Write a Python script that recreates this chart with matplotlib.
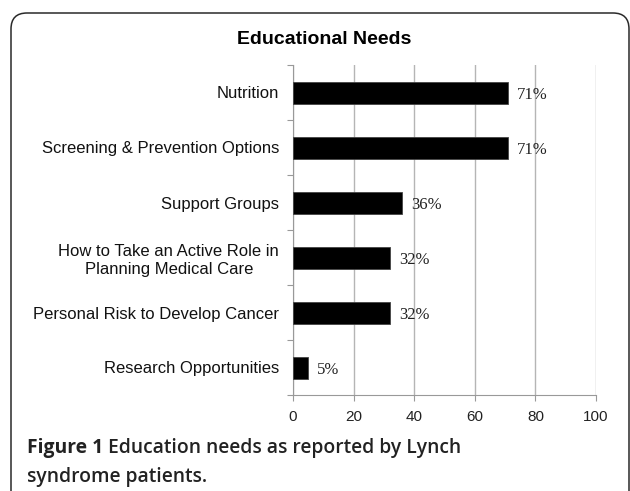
import numpy as np
import matplotlib.pyplot as plt
from matplotlib.patches import FancyBboxPatch

categories = ["Nutrition",
              "Screening & Prevention Options",
              "Support Groups",
              "How to Take an Active Role in\nPlanning Medical Care",
              "Personal Risk to Develop Cancer",
              "Research Opportunities"]
values = [71, 71, 36, 32, 32, 5]
xticks = [0, 20, 40, 60, 80, 100]

fig = plt.figure(figsize=(6.3, 4.91), dpi=100)

# rounded frame, open at the bottom
frame = FancyBboxPatch((0.11, -0.5), 6.18, 4.78 + 0.5,
                       boxstyle="round,pad=0,rounding_size=0.16",
                       transform=fig.dpi_scale_trans, fill=False,
                       edgecolor="#2a2a2a", linewidth=1.1, zorder=0)
fig.patches.append(frame)

ax = fig.add_axes([293 / 630, 1 - 395 / 491, 303 / 630, 330 / 491])

y = np.arange(len(categories))
ax.barh(y, values, height=0.4, color="black", edgecolor="#444444",
        linewidth=0.6, zorder=3)

for yi, v in zip(y, values):
    ax.text(v + 3, yi + 0.04, f"{v}%", va="center", ha="left",
            fontsize=12, family="Liberation Serif", color="#222222")

ax.set_xlim(0, 100)
ax.set_ylim(len(categories) - 0.5, -0.5)
ax.set_xticks(xticks)
ax.set_xticklabels([str(t) for t in xticks], family="Liberation Sans",
                   fontsize=11, color="#222222")
ax.set_yticks(y)
ax.set_yticklabels(categories, family="Liberation Sans", fontsize=12,
                   color="#111111", multialignment="center",
                   linespacing=1.25)
ax.set_yticks(np.arange(-0.5, len(categories), 1), minor=True)

ax.tick_params(axis="y", which="major", length=0, pad=10)
ax.tick_params(axis="y", which="minor", length=4, color="#999999", width=0.8)
ax.tick_params(axis="x", length=4, color="#999999", width=0.8, pad=7)

ax.grid(axis="x", color="#b5b5b5", linewidth=1.0, zorder=0)
for s in ["top", "right"]:
    ax.spines[s].set_visible(False)
ax.spines["left"].set_color("#999999")
ax.spines["bottom"].set_color("#999999")
ax.spines["left"].set_linewidth(0.8)
ax.spines["bottom"].set_linewidth(0.8)

fig.text(0.515, 1 - 39 / 491, "Educational Needs", ha="center", va="center",
         fontsize=14, fontweight="bold", family="Liberation Sans")

# caption: bold "Figure 1" followed by the rest of the sentence
cap_size = 13.9
t1 = fig.text(27 / 630, 1 - 448 / 491, "Figure 1", ha="left", va="center",
              fontsize=cap_size, fontweight="bold", family="Open Sans",
              color="#222222")
fig.canvas.draw()
bb = t1.get_window_extent()
fig.text((bb.x1 + 5) / 630, 1 - 448 / 491,
         "Education needs as reported by Lynch", ha="left", va="center",
         fontsize=cap_size, family="Open Sans", fontweight="semibold",
         color="#222222")
fig.text(27 / 630, 1 - 477 / 491, "syndrome patients.", ha="left",
         va="center", fontsize=cap_size, family="Open Sans",
         fontweight="semibold", color="#222222")

fig.savefig("out.png", dpi=100)
